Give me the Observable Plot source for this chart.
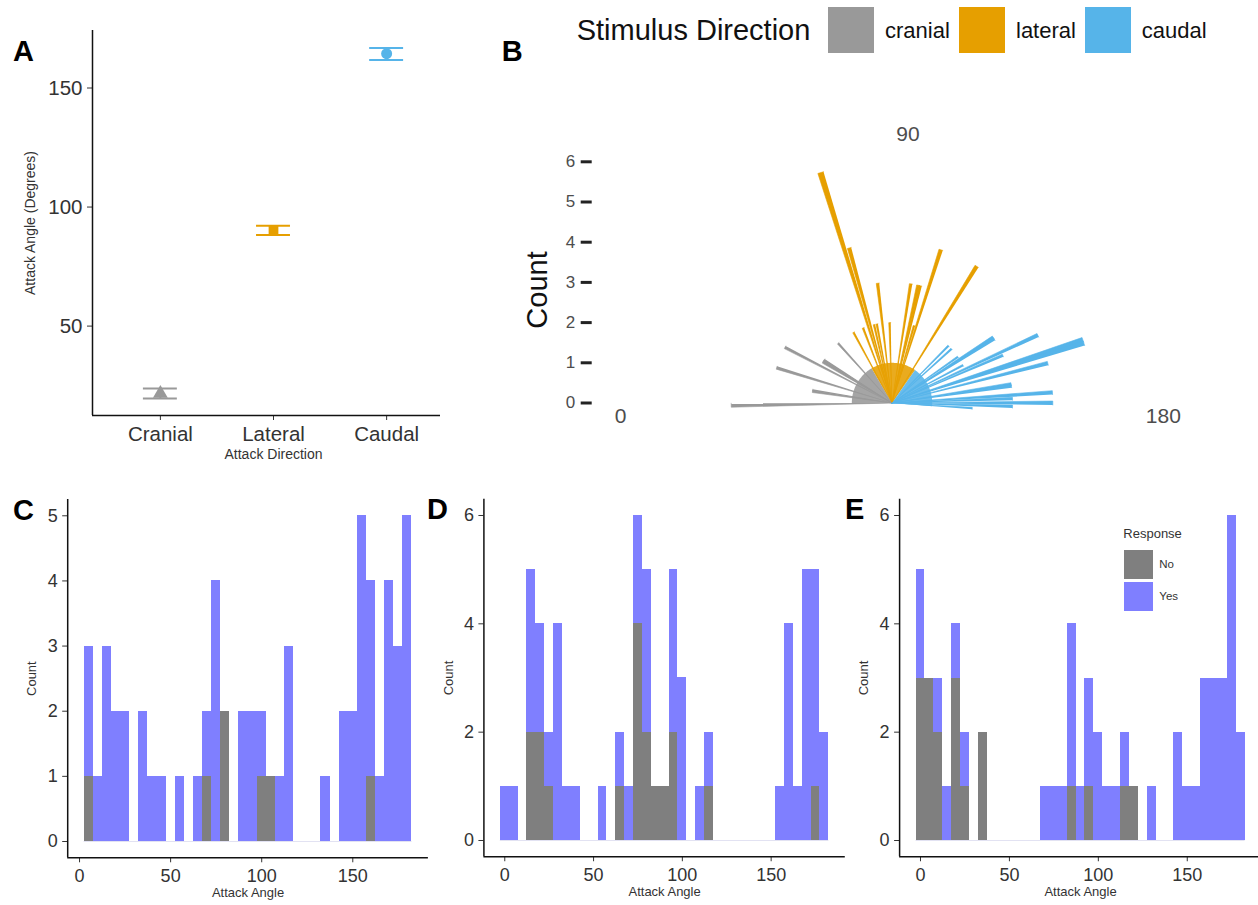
<!DOCTYPE html>
<html>
<head>
<meta charset="utf-8">
<script src="https://cdn.jsdelivr.net/npm/d3@7"></script>
<script src="https://cdn.jsdelivr.net/npm/@observablehq/plot@0.6"></script>
<style>
html, body { margin:0; padding:0; background:#fff; }
body { position:relative; width:1258px; height:905px; overflow:hidden; font-family:'Liberation Sans', Arial, sans-serif; }
.panel { position:absolute; overflow:hidden; }
.panel svg { max-width:none !important; height:auto; }
.txt { position:absolute; white-space:nowrap; }
.box { position:absolute; }
#B g[aria-label="y-axis tick"], #B g[aria-label="y-axis tick"] path { stroke-width:3px; stroke:#222; }
</style>
</head>
<body>
<script>
// ---------------- DATA ----------------
// Panel A: mean attack angle with error bars per stimulus direction
const directions = ["Cranial", "Lateral", "Caudal"];
const meanAngle  = [21.7, 90.2, 164.4];
const lowerAngle = [19.6, 88.3, 161.8];
const upperAngle = [23.8, 92.1, 166.8];
const directionColors = ["#999999", "#E69F00", "#56B4E9"];
const directionSymbols = ["triangle", "square", "circle"];
const angleTicksA = [50, 100, 150];

// Panel B: rose of attack angles (angle in degrees, count), by stimulus direction
const stimulusNames = ["cranial", "lateral", "caudal"];
const roseAngle = [-0.8, 8.2, 9.2, 17, 27.5, 30.5, 31.5, 32.5, 48,
                   61.5, 69, 72.8, 74.6, 77.2, 79.2, 83.2, 88.4, 99, 102.5, 103.6, 106, 107.7, 121.8,
                   134.7, 137.8, 145.1, 147, 148, 152.1, 155.1, 156.8, 161.7, 162.7, 165.7, 171, 172,
                   176.3, 178, 180, 181.7, 183.8];
const roseCount = [4, 2, 2, 3, 3, 2, 2, 2, 2,
                   2, 2, 6, 4, 2, 2, 3, 2, 3, 3, 3, 2, 4, 4,
                   2, 2, 2, 3, 3, 2, 4, 3, 5, 5, 4, 3, 3,
                   4, 3, 4, 3, 2];
const roseDir = ["cranial","cranial","cranial","cranial","cranial","cranial","cranial","cranial","cranial",
                 "lateral","lateral","lateral","lateral","lateral","lateral","lateral","lateral","lateral","lateral","lateral","lateral","lateral","lateral",
                 "caudal","caudal","caudal","caudal","caudal","caudal","caudal","caudal","caudal","caudal","caudal","caudal","caudal",
                 "caudal","caudal","caudal","caudal","caudal"];
const sectorStart = [-1.5, 59.5, 125];
const sectorEnd   = [59.5, 125, 184.5];
const sectorCount = [1, 1, 1];
const roseCountTicks = [0, 1, 2, 3, 4, 5, 6];
const roseAngleLabels = [0, 90, 180];

// Panels C, D, E: histograms of attack angle (5-degree bins), stacked by response
const responses = ["No", "Yes"];
const responseColors = ["#7f7f7f", "#7f7fff"];
const histTicksX = [0, 50, 100, 150];

const binsC = [5,10,15,20,25,30,35,40,45,50,55,60,65,70,75,80,85,90,95,100,105,110,115,120,125,130,135,140,145,150,155,160,165,170,175,180];
const noC   = [1,0,0,0,0,0,0,0,0,0,0,0,0,1,0,2,0,0,0,1,1,0,0,0,0,0,0,0,0,0,0,1,0,0,0,0];
const yesC  = [2,1,3,2,2,0,2,1,1,0,1,0,1,1,4,0,0,2,2,1,0,1,3,0,0,0,1,0,2,2,5,3,1,4,3,5];

const binsD = [0,5,10,15,20,25,30,35,40,45,50,55,60,65,70,75,80,85,90,95,100,105,110,115,120,125,130,135,140,145,150,155,160,165,170,175,180];
const noD   = [0,0,0,2,2,1,0,0,0,0,0,0,0,1,0,4,2,1,1,2,0,0,0,1,0,0,0,0,0,0,0,0,0,0,0,1,0];
const yesD  = [1,1,0,3,2,1,4,1,1,0,0,1,0,1,1,2,3,0,0,3,3,0,1,1,0,0,0,0,0,0,0,1,4,1,5,4,2];

const binsE = [0,5,10,15,20,25,30,35,40,45,50,55,60,65,70,75,80,85,90,95,100,105,110,115,120,125,130,135,140,145,150,155,160,165,170,175,180];
const noE   = [3,3,2,0,3,1,0,2,0,0,0,0,0,0,0,0,0,1,0,1,0,0,0,1,1,0,0,0,0,0,0,0,0,0,0,0,0];
const yesE  = [2,0,1,1,1,1,0,0,0,0,0,0,0,0,1,1,1,3,1,2,2,1,1,1,0,0,1,0,0,2,1,1,3,3,3,6,2];

// ---------------- HELPERS ----------------
const FONT = "'Liberation Sans', Arial, sans-serif";
function panel(id, left, top, width, height) {
  const d = document.createElement("div");
  d.id = id; d.className = "panel";
  Object.assign(d.style, {left: left + "px", top: top + "px", width: width + "px", height: height + "px"});
  document.body.appendChild(d);
  return d;
}
function addText(t, left, baseline, size, opts = {}) {
  const s = document.createElement("div");
  s.className = "txt"; s.textContent = t;
  Object.assign(s.style, {
    left: left + "px", top: (baseline - 0.8465 * size) + "px",
    fontSize: size + "px", lineHeight: size + "px",
    fontWeight: opts.weight || "normal", color: opts.color || "#000"
  });
  document.body.appendChild(s);
}
function addBox(left, top, w, h, color) {
  const b = document.createElement("div");
  b.className = "box";
  Object.assign(b.style, {left: left + "px", top: top + "px", width: w + "px", height: h + "px", background: color});
  document.body.appendChild(b);
}

// ---------------- PANEL A ----------------
{
  const el = panel("A", 0, 0, 440, 470);
  const rows = directions.map((d, i) => ({dir: d, i: i + 1, mean: meanAngle[i], lo: lowerAngle[i], hi: upperAngle[i]}));
  const xDom = [0.4, 3.6], yDom = [12.45, 174.15];
  const capHalf = 0.15;
  el.appendChild(Plot.plot({
    width: 454, height: 470, marginLeft: 92, marginRight: 0, marginTop: 30, marginBottom: 55,
    x: {domain: xDom, ticks: [1, 2, 3], tickFormat: i => directions[i - 1], tickSize: 5, tickPadding: 6, label: null},
    y: {domain: yDom, ticks: angleTicksA, tickFormat: d => String(d), tickSize: 5, tickPadding: 5, label: null},
    color: {domain: directions, range: directionColors},
    symbol: {domain: directions, range: directionSymbols},
    style: {fontFamily: FONT, fontSize: "20.5px", color: "#333", background: "#fff"},
    marks: [
      Plot.ruleX([xDom[0]], {stroke: "#111", strokeWidth: 1.5}),
      Plot.ruleY([yDom[0]], {stroke: "#111", strokeWidth: 1.5}),
      Plot.ruleX(rows, {x: "i", y1: "lo", y2: "hi", stroke: "dir", strokeWidth: 2}),
      Plot.ruleY(rows, {y: "lo", x1: d => d.i - capHalf, x2: d => d.i + capHalf, stroke: "dir", strokeWidth: 2}),
      Plot.ruleY(rows, {y: "hi", x1: d => d.i - capHalf, x2: d => d.i + capHalf, stroke: "dir", strokeWidth: 2}),
      Plot.dot(rows, {x: "i", y: "mean", fill: "dir", symbol: "dir", r: 5.5, stroke: null}),
      Plot.text(["Attack Direction"], {frameAnchor: "bottom", textAnchor: "middle", dy: 43, fontSize: 14, fill: "#333"}),
      Plot.text(["Attack Angle (Degrees)"], {frameAnchor: "left", textAnchor: "middle", dx: -62, rotate: -90, fontSize: 14, fill: "#333"})
    ]
  }));
}

// ---------------- PANEL B ----------------
{
  const box = {left: 480, top: 100, width: 778, height: 340};
  const el = panel("B", box.left, box.top, box.width, box.height);
  const k = 40.2;                 // px per count unit
  const center = [891.5, 402.5];  // page position of the rose centre
  const frameLeft = 591.7;
  const mL = frameLeft - box.left;
  const cx = center[0] - box.left, cy = center[1] - box.top;
  const xDom = [-(cx - mL) / k, (box.width - cx) / k];
  const yDom = [-(box.height - cy) / k, cy / k];
  const pol = (r, deg) => { const t = deg * Math.PI / 180; return [-r * Math.cos(t), r * Math.sin(t)]; };
  const W = 1.4;
  const wedges = [];
  roseAngle.forEach((a, i) => {
    const n = roseCount[i];
    [[0, 0], [n, a - W / 2], [n, a + W / 2]].forEach(([r, t]) => {
      const [x, y] = pol(r, t);
      wedges.push({id: i, dir: roseDir[i], x, y});
    });
  });
  const sectors = [];
  stimulusNames.forEach((s, j) => {
    const pts = [[0, 0]];
    for (let t = sectorStart[j]; t < sectorEnd[j]; t += 1) pts.push([sectorCount[j], t]);
    pts.push([sectorCount[j], sectorEnd[j]]);
    pts.forEach(([r, t]) => { const [x, y] = pol(r, t); sectors.push({id: j, dir: s, x, y}); });
  });
  const colorOf = s => directionColors[stimulusNames.indexOf(s)];
  const marks = [];
  stimulusNames.forEach(s => {
    marks.push(Plot.line(wedges.filter(d => d.dir === s), {x: "x", y: "y", z: "id", fill: colorOf(s), stroke: colorOf(s), strokeWidth: 0.6}));
  });
  stimulusNames.forEach(s => {
    marks.push(Plot.line(sectors.filter(d => d.dir === s), {x: "x", y: "y", z: "id", fill: colorOf(s), fillOpacity: 0.88, stroke: "none"}));
  });
  const labR = 6.75;
  marks.push(Plot.text(roseAngleLabels.filter(a => a !== 90), {x: a => pol(labR, a)[0], y: a => pol(labR, a)[1], text: a => String(a), dy: 13, fontSize: 21, fill: "#4d4d4d"}));
  marks.push(Plot.text(roseAngleLabels.filter(a => a === 90), {x: a => pol(labR, a)[0], y: a => pol(labR, a)[1], text: a => String(a), dx: 16, dy: 3, fontSize: 21, fill: "#4d4d4d"}));
  el.appendChild(Plot.plot({
    width: box.width, height: box.height, marginLeft: mL, marginRight: 0, marginTop: 0, marginBottom: 0,
    x: {domain: xDom, axis: null},
    y: {domain: yDom, ticks: roseCountTicks, tickFormat: d => String(d), tickSize: 11, tickPadding: 6, label: null},
    style: {fontFamily: FONT, fontSize: "17px", color: "#4d4d4d", background: "transparent"},
    marks
  }));
  // rotated "Count" title
  const c = document.createElement("div");
  c.className = "txt"; c.textContent = "Count";
  Object.assign(c.style, {left: "537px", top: "290px", fontSize: "29px", lineHeight: "29px", color: "#111",
    transform: "translate(-50%,-50%) rotate(-90deg)"});
  document.body.appendChild(c);
  // legend
  addText("Stimulus Direction", 576.7, 40.7, 29, {color: "#111"});
  const boxL = [828.3, 959, 1085], labL = [885, 1016, 1141.7];
  stimulusNames.forEach((s, j) => {
    addBox(boxL[j], 7.3, 46, 45.4, directionColors[j]);
    addText(s, labL[j], 38.3, 22, {color: "#111"});
  });
}

// ---------------- PANELS C, D, E ----------------
function hist(id, cfg) {
  const W = cfg.frameRight - cfg.left, H = 905 - cfg.top;
  const el = panel(id, cfg.left, cfg.top, Math.min(W, 1258 - cfg.left), H);
  const rows = cfg.bins.map((c, i) => ({x1: c - 2.5, x2: c + 2.5, no: cfg.no[i], total: cfg.no[i] + cfg.yes[i]}));
  const first = cfg.bins[0] - 2.5, last = cfg.bins[cfg.bins.length - 1] + 2.5;
  el.appendChild(Plot.plot({
    width: W, height: H,
    marginLeft: cfg.frameLeft - cfg.left, marginRight: 0,
    marginTop: cfg.frameTop - cfg.top, marginBottom: 905 - cfg.frameBottom,
    x: {domain: cfg.xDomain, ticks: histTicksX, tickFormat: d => String(d), tickSize: 5, tickPadding: 6, label: null},
    y: {domain: cfg.yDomain, ticks: cfg.yTicks, tickFormat: d => String(d), tickSize: 5, tickPadding: 5, label: null},
    style: {fontFamily: FONT, fontSize: "18px", color: "#333", background: "#fff"},
    marks: [
      Plot.ruleY([0], {x1: first, x2: last, stroke: "#e2e2f2", strokeWidth: 1.2}),
      Plot.rect(rows, {x1: "x1", x2: "x2", y1: 0, y2: "total", fill: responseColors[1], shapeRendering: "crispEdges"}),
      Plot.rect(rows.filter(d => d.no > 0), {x1: "x1", x2: "x2", y1: 0, y2: "no", fill: responseColors[0], shapeRendering: "crispEdges"}),
      Plot.ruleX([cfg.xDomain[0]], {stroke: "#111", strokeWidth: 1.5}),
      Plot.ruleY([cfg.yDomain[0]], {stroke: "#111", strokeWidth: 1.5}),
      Plot.text(["Count"], {frameAnchor: "left", textAnchor: "middle", dx: -35.5, rotate: -90, fontSize: 13, fill: "#333"}),
      Plot.text(["Attack Angle"], {frameAnchor: "bottom", textAnchor: "middle", dy: 39.7, fontSize: 13, fill: "#333"})
    ]
  }));
}
hist("C", {bins: binsC, no: noC, yes: yesC, left: 0, top: 480, frameLeft: 67.2, frameRight: 427.9,
  frameTop: 499, frameBottom: 857.3, xDomain: [-6.5, 191.5], yDomain: [-0.25, 5.25], yTicks: [0, 1, 2, 3, 4, 5]});
hist("D", {bins: binsD, no: noD, yes: yesD, left: 428, top: 480, frameLeft: 483.4, frameRight: 844.8,
  frameTop: 498.75, frameBottom: 856.25, xDomain: [-11.75, 191.75], yDomain: [-0.3, 6.3], yTicks: [0, 2, 4, 6]});
hist("E", {bins: binsE, no: noE, yes: yesE, left: 845, top: 480, frameLeft: 899.1, frameRight: 1261,
  frameTop: 498.75, frameBottom: 856.25, xDomain: [-11.75, 191.75], yDomain: [-0.3, 6.3], yTicks: [0, 2, 4, 6]});

// Response legend (panel E)
addText("Response", 1123.3, 538.5, 13, {color: "#333"});
addBox(1124, 550, 29, 29.3, responseColors[0]);
addBox(1124, 582.3, 29, 28.7, responseColors[1]);
addText(responses[0], 1159.3, 569, 11.5, {color: "#333"});
addText(responses[1], 1159.3, 600.7, 11.5, {color: "#333"});

// Panel letters
addText("A", 13, 61.7, 29, {weight: "bold"});
addText("B", 501.7, 61.7, 29, {weight: "bold"});
addText("C", 13, 521, 29, {weight: "bold"});
addText("D", 427, 520, 29, {weight: "bold"});
addText("E", 845, 520, 29, {weight: "bold"});
</script>
</body>
</html>
